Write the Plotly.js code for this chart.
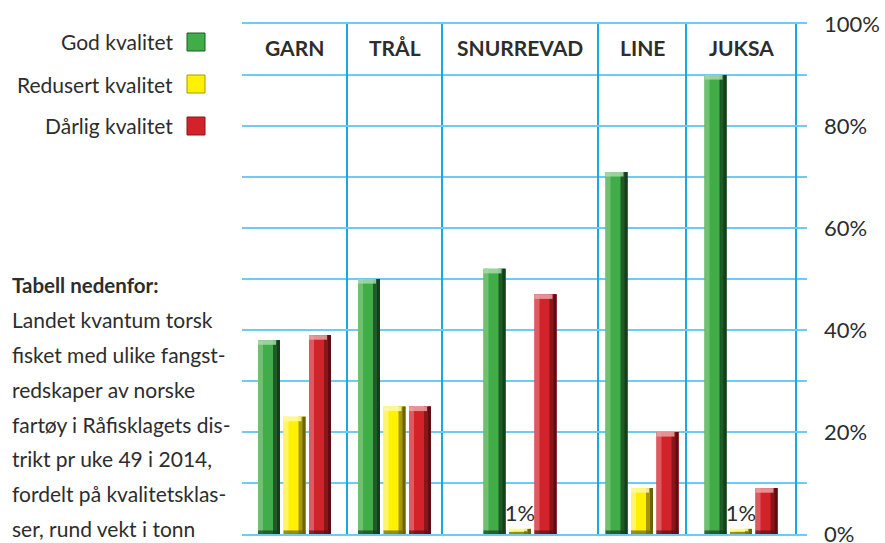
<!DOCTYPE html>
<html>
<head>
<meta charset="utf-8">
<script src="https://cdn.plot.ly/plotly-3.0.1.min.js"></script>
<style>
html,body{margin:0;padding:0;background:#fff;}
#chart{width:885px;height:543px;}
</style>
</head>
<body>
<div id="chart"></div>
<script>
// ---- data ----
const categories = ['GARN', 'TRÅL', 'SNURREVAD', 'LINE', 'JUKSA'];
const godKvalitet = [38, 50, 52, 71, 90];
const redusertKvalitet = [23, 25, 1, 9, 1];
const darligKvalitet = [39, 25, 47, 20, 9];
const seriesNames = ['God kvalitet', 'Redusert kvalitet', 'Dårlig kvalitet'];
const yTickVals = [0, 20, 40, 60, 80, 100];
const yTickText = ['0%', '20%', '40%', '60%', '80%', '100%'];
const noteTitle = 'Tabell nedenfor:';
const noteLines = [
  'Landet kvantum torsk',
  'fisket med ulike fangst-',
  'redskaper av norske',
  'fartøy i Råfisklagets dis-',
  'trikt pr uke 49 i 2014,',
  'fordelt på kvalitetsklas-',
  'ser, rund vekt i tonn'
];

// ---- layout helpers (positions / styles) ----
const W = 885, H = 543;
const M = {l: 242, r: 78, t: 24, b: 9};
const PW = W - M.l - M.r, PH = H - M.t - M.b;
const edges = [0, 105, 200, 356, 444, 554];       // column borders in x units
const centers = categories.map((c, i) => (edges[i] + edges[i + 1]) / 2);
const slot = 25.5, barW = 22;
const px2paperX = px => (px - M.l) / PW;
const px2paperY = py => (H - M.b - py) / PH;

const FONT = 'Lato, "Open Sans", sans-serif';
const TXT = '#2d2d2d';
const palettes = [
  {main: '#41ad49', light: '#6fc071', dark: '#1f5a27', darker: '#153f1b', cap: '#a9d9a9'},
  {main: '#fff200', light: '#fff46a', dark: '#a69a00', darker: '#6b6300', cap: '#fff8a8'},
  {main: '#d2232a', light: '#dc5a60', dark: '#8a161b', darker: '#5c0e12', cap: '#eba3a6'}
];
const seriesData = [godKvalitet, redusertKvalitet, darligKvalitet];
const capH = 0.9, footH = 0.7;

const traces = [];
seriesData.forEach((vals, s) => {
  const p = palettes[s];
  const xs = centers.map(c => c + (s - 1) * slot);
  // main body
  traces.push({
    type: 'bar', x: xs, y: vals, name: seriesNames[s],
    width: barW, offset: -barW / 2,
    marker: {color: p.main, line: {width: 0}},
    text: vals.map(v => v <= 1 ? v + '%' : ''),
    textposition: 'outside', constraintext: 'none', cliponaxis: false,
    textfont: {family: FONT, size: 22, color: TXT},
    hoverinfo: 'x+y', showlegend: false
  });
  // left highlight
  traces.push({
    type: 'bar', x: xs, y: vals, width: 5, offset: -barW / 2,
    marker: {color: p.light, line: {width: 0}}, hoverinfo: 'skip', showlegend: false
  });
  // right shade
  traces.push({
    type: 'bar', x: xs, y: vals, width: 7, offset: barW / 2 - 7,
    marker: {color: p.dark, line: {width: 0}}, hoverinfo: 'skip', showlegend: false
  });
  traces.push({
    type: 'bar', x: xs, y: vals, width: 3, offset: barW / 2 - 3,
    marker: {color: p.darker, line: {width: 0}}, hoverinfo: 'skip', showlegend: false
  });
  // top cap (light) and foot (dark) for the 3D look
  traces.push({
    type: 'bar', x: xs, y: vals.map(v => Math.min(capH, v * 0.4)),
    base: vals.map(v => v - Math.min(capH, v * 0.4)),
    width: barW - 4, offset: -barW / 2,
    marker: {color: p.cap, opacity: 0.85, line: {width: 0}}, hoverinfo: 'skip', showlegend: false
  });
  traces.push({
    type: 'bar', x: xs, y: vals.map(v => Math.min(footH, v * 0.4)),
    width: barW, offset: -barW / 2,
    marker: {color: p.darker, opacity: 0.7, line: {width: 0}}, hoverinfo: 'skip', showlegend: false
  });
});

const annotations = [];
const shapes = [];
// column headers
categories.forEach((c, i) => {
  annotations.push({
    x: centers[i], y: 95.3, xref: 'x', yref: 'y', text: '<b>' + c + '</b>',
    showarrow: false, font: {family: FONT, size: 21, color: TXT}
  });
});
// custom legend (text right, square on the right)
const legendY = [42, 84, 126];
seriesNames.forEach((n, s) => {
  annotations.push({
    x: px2paperX(175), y: px2paperY(legendY[s]), xref: 'paper', yref: 'paper',
    xanchor: 'right', yanchor: 'middle', text: n, showarrow: false,
    font: {family: FONT, size: 21, color: TXT}
  });
  shapes.push({
    type: 'rect', xref: 'paper', yref: 'paper',
    x0: px2paperX(187), x1: px2paperX(205),
    y0: px2paperY(legendY[s] - 9), y1: px2paperY(legendY[s] + 9),
    fillcolor: palettes[s].main, line: {color: palettes[s].dark, width: 1}
  });
});
// note text
annotations.push({
  x: px2paperX(10), y: px2paperY(285), xref: 'paper', yref: 'paper',
  xanchor: 'left', yanchor: 'middle', text: '<b>' + noteTitle + '</b>', showarrow: false,
  font: {family: FONT, size: 20.5, color: TXT}
});
noteLines.forEach((t, i) => {
  annotations.push({
    x: px2paperX(10), y: px2paperY(320 + i * 34.7), xref: 'paper', yref: 'paper',
    xanchor: 'left', yanchor: 'middle', text: t, showarrow: false,
    font: {family: FONT, size: 21, color: TXT}
  });
});

const gridH = '#6fcbf3';
const layout = {
  width: W, height: H,
  margin: M,
  paper_bgcolor: '#fff', plot_bgcolor: '#fff',
  barmode: 'overlay',
  showlegend: false,
  xaxis: {
    range: [0, PW], tickvals: edges, showticklabels: false, ticks: '',
    showgrid: true, gridcolor: '#1aa8e4', gridwidth: 1.3, zeroline: false,
    showline: true, mirror: true, linecolor: gridH, linewidth: 2,
    fixedrange: true
  },
  yaxis: {
    side: 'right', range: [0, 100], tickvals: yTickVals, ticktext: yTickText,
    showgrid: true, gridcolor: gridH, gridwidth: 2, zeroline: false, showline: false,
    ticks: '', ticklabelstandoff: 16, ticklabeloverflow: 'allow',
    tickfont: {family: FONT, size: 22, color: TXT},
    minor: {dtick: 10, showgrid: true, gridcolor: gridH, gridwidth: 2},
    fixedrange: true
  },
  annotations: annotations,
  shapes: shapes
};

Plotly.newPlot('chart', traces, layout, {displayModeBar: false, staticPlot: true});
</script>
</body>
</html>
